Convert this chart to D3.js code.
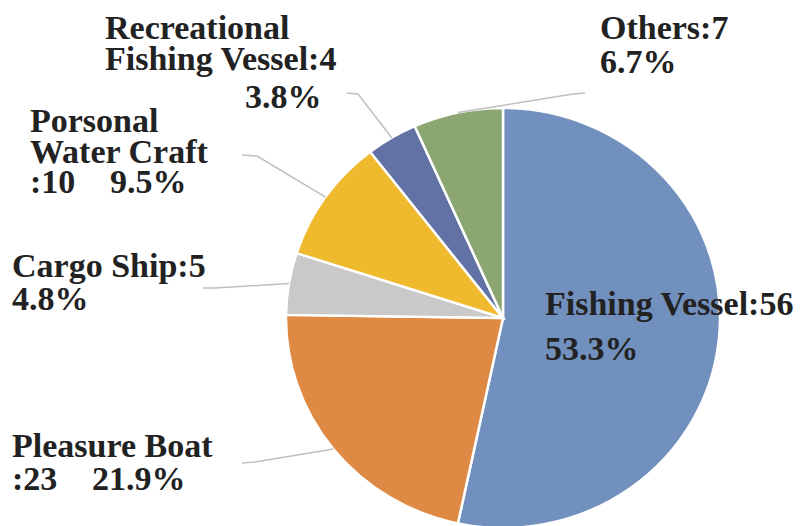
<!DOCTYPE html>
<html>
<head>
<meta charset="utf-8">
<script src="https://cdn.jsdelivr.net/npm/d3@7"></script>
<style>
  body { margin: 0; background: #fff; }
</style>
</head>
<body>
<div id="chart"></div>
<script>
const categories = ['Fishing Vessel', 'Pleasure Boat', 'Cargo Ship', 'Porsonal Water Craft', 'Recreational Fishing Vessel', 'Others']
const counts = [56, 23, 5, 10, 4, 7]
const colors = ['#7290bd', '#de8a44', '#c9c9c9', '#efba2d', '#6272a5', '#8ba671']

// label layout: text lines (x, baseline y, template) and the leader line end / elbow
const labelLayout = [
  { lines: [[545, 315, 'name'], [545, 360, 'pct']], leader: null },
  { lines: [[12, 457, 'Pleasure Boat'], [12, 490, ':count'], [92, 490, 'pct']], leader: [[242, 463], [255, 462]] },
  { lines: [[12, 277, 'name'], [12, 310, 'pct']], leader: [[203, 288], [215, 288]] },
  { lines: [[30, 132, 'Porsonal'], [30, 163, 'Water Craft'], [30, 193, ':count'], [110, 193, 'pct']], leader: [[242, 155], [257, 156]] },
  { lines: [[105, 39, 'Recreational'], [105, 70, 'Fishing Vessel:count'], [245, 108, 'pct']], leader: [[347, 93], [358, 94]] },
  { lines: [[600, 39, 'name'], [600, 73, 'pct']], leader: [[585, 93], [573, 94]] }
]

const width = 803
const height = 526
const cx = 503
const cy = 318
const radius = 217
const squash = 210 / 217

const total = d3.sum(counts)
const pct = d3.format('.1%')

const data = categories.map((c, i) => ({ name: c, count: counts[i], color: colors[i], layout: labelLayout[i] }))

const svg = d3.select('#chart')
  .append('svg')
  .attr('width', width)
  .attr('height', height)

const pie = d3.pie()
  .value(d => d.count)
  .sort(null)

const arc = d3.arc()
  .innerRadius(0)
  .outerRadius(radius)

const arcs = pie(data)

const g = svg.append('g')
  .attr('transform', 'translate(' + cx + ',' + cy + ') scale(1,' + squash + ')')

g.selectAll('path')
  .data(arcs)
  .enter()
  .append('path')
  .attr('d', arc)
  .attr('fill', d => d.data.color)
  .attr('stroke', '#fff')
  .attr('stroke-width', 2.5)

// leader lines, from the rim at the slice's middle angle
function rimPoint(d) {
  const a = (d.startAngle + d.endAngle) / 2
  return [cx + radius * Math.sin(a), cy - radius * squash * Math.cos(a)]
}

svg.selectAll('.leader')
  .data(arcs.filter(d => d.data.layout.leader))
  .enter()
  .append('polyline')
  .attr('class', 'leader')
  .attr('points', d => d.data.layout.leader.concat([rimPoint(d)]).map(p => p.join(',')).join(' '))
  .attr('fill', 'none')
  .attr('stroke', '#bfbfbf')
  .attr('stroke-width', 1.5)

// labels
arcs.forEach(d => {
  d.data.layout.lines.forEach(l => {
    let t = l[2]
      .replace('name', d.data.name + ':' + d.data.count)
      .replace('count', d.data.count)
      .replace('pct', pct(d.data.count / total))
    svg.append('text')
      .attr('x', l[0])
      .attr('y', l[1])
      .attr('font-family', '"Liberation Serif", "Times New Roman", serif')
      .attr('font-weight', 'bold')
      .attr('fill', '#222')
      .attr('font-size', 34)
      .text(t)
  })
})
</script>
</body>
</html>
